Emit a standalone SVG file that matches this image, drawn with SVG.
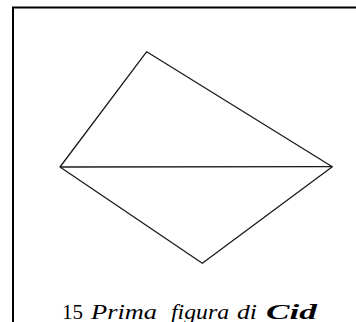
<svg xmlns="http://www.w3.org/2000/svg" width="356" height="322" viewBox="0 0 356 322">
<style>
.frame{fill:none;stroke:#000;stroke-width:2}
.edge{fill:none;stroke:#1a1a1a;stroke-width:1.3;stroke-linejoin:round}
.cap{font-family:"Liberation Serif","DejaVu Serif",serif;font-size:22px;fill:#000}
</style>
<rect width="356" height="322" fill="#fff"/>
<path class="frame" d="M13,322 V7.5 H356"/>
<g id="connectors">
<path class="edge" d="M60,167 L146.7,51.7 L332.3,166.7 L202.3,263.3 Z"/>
<path class="edge" d="M60,167 L332.3,166.7"/>
</g>
<g id="caption">
<text class="cap" y="319"><tspan x="62" textLength="21" lengthAdjust="spacingAndGlyphs">15</tspan><tspan x="91" font-style="italic" textLength="66" lengthAdjust="spacingAndGlyphs">Prima</tspan><tspan x="171" font-style="italic" textLength="58" lengthAdjust="spacingAndGlyphs">figura</tspan><tspan x="237" font-style="italic" textLength="20" lengthAdjust="spacingAndGlyphs">di</tspan><tspan x="266" font-style="italic" font-weight="bold" textLength="51" lengthAdjust="spacingAndGlyphs">Cid</tspan></text>
</g>
</svg>
